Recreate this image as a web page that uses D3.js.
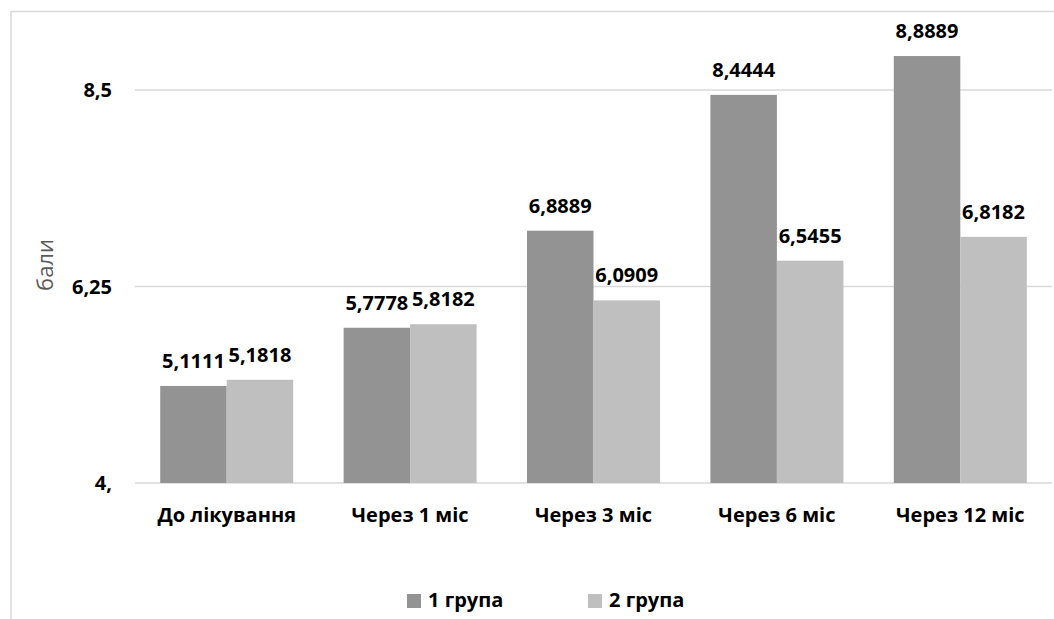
<!DOCTYPE html>
<html><head><meta charset="utf-8">
<script src="https://cdn.jsdelivr.net/npm/d3@7"></script>
<style>
html,body{margin:0;padding:0;background:#fff;}
text{font-family:"Open Sans",sans-serif;}
</style></head>
<body>
<svg id="chart" width="1054" height="619"></svg>
<script>
const categories = ["До лікування","Через 1 міс","Через 3 міс","Через 6 міс","Через 12 міс"];
const series = ["1 група","2 група"];
const group1 = [5.1111, 5.7778, 6.8889, 8.4444, 8.8889];
const group2 = [5.1818, 5.8182, 6.0909, 6.5455, 6.8182];
const tickValues = [4, 6.25, 8.5];
const tickLabels = ["4,", "6,25", "8,5"];
const axisTitle = "бали";

const colors = ["#939393", "#bfbfbf"];
const fmt = v => v.toFixed(4).replace(".", ",");

const svg = d3.select("#chart");

// chart border (right/bottom cut off)
svg.append("rect").attr("x", 11).attr("y", 11.5).attr("width", 1200).attr("height", 800)
  .attr("fill", "none").attr("stroke", "#d9d9d9").attr("stroke-width", 1.5);

const x0 = d3.scaleBand().domain(categories).range([135, 1052])
  .paddingInner(0.275).paddingOuter(0.1375);
const x1 = d3.scaleBand().domain(series).range([0, x0.bandwidth()]);
const y = d3.scaleLinear().domain([4, 9.25]).range([483, 24.5]);

// gridlines
svg.append("g").selectAll("line").data(tickValues).join("line")
  .attr("x1", 135).attr("x2", 1052)
  .attr("y1", d => y(d)).attr("y2", d => y(d))
  .attr("stroke", "#d9d9d9").attr("stroke-width", 1.5);

// y tick labels
svg.append("g").selectAll("text").data(tickValues).join("text")
  .attr("x", 112).attr("y", d => y(d)).attr("dy", "0.35em")
  .attr("text-anchor", "end").attr("font-size", 20).attr("font-weight", 700)
  .attr("fill", "#000").text((d, i) => tickLabels[i]);

// axis title
svg.append("text").attr("transform", "translate(53,265) rotate(-90)")
  .attr("text-anchor", "middle").attr("font-size", 22).attr("fill", "#595959")
  .text(axisTitle);

const data = categories.map((c, i) => ({c, vals: [group1[i], group2[i]]}));

const g = svg.append("g").selectAll("g").data(data).join("g")
  .attr("transform", d => `translate(${x0(d.c)},0)`);

g.selectAll("rect").data(d => d.vals.map((v, j) => ({v, s: series[j], j}))).join("rect")
  .attr("x", d => x1(d.s)).attr("width", x1.bandwidth())
  .attr("y", d => y(d.v)).attr("height", d => y(4) - y(d.v))
  .attr("fill", d => colors[d.j]);

g.selectAll("text.val").data(d => d.vals.map((v, j) => ({v, s: series[j], j}))).join("text")
  .attr("class", "val")
  .attr("x", d => x1(d.s) + x1.bandwidth() / 2).attr("y", d => y(d.v) - 18)
  .attr("text-anchor", "middle").attr("font-size", 20).attr("font-weight", 700)
  .attr("fill", "#000").text(d => fmt(d.v));

// category labels
svg.append("g").selectAll("text").data(categories).join("text")
  .attr("x", d => x0(d) + x0.bandwidth() / 2).attr("y", 522)
  .attr("text-anchor", "middle").attr("font-size", 20).attr("font-weight", 700)
  .attr("fill", "#000").text(d => d);

// legend
const legendX = [407, 588];
const lg = svg.append("g").selectAll("g").data(series).join("g")
  .attr("transform", (d, i) => `translate(${legendX[i]},0)`);
lg.append("rect").attr("x", 0).attr("y", 594).attr("width", 14).attr("height", 14)
  .attr("fill", (d, i) => colors[i]);
lg.append("text").attr("x", 21).attr("y", 607).attr("font-size", 20).attr("font-weight", 700)
  .attr("fill", "#000").text(d => d);
</script>
</body></html>
